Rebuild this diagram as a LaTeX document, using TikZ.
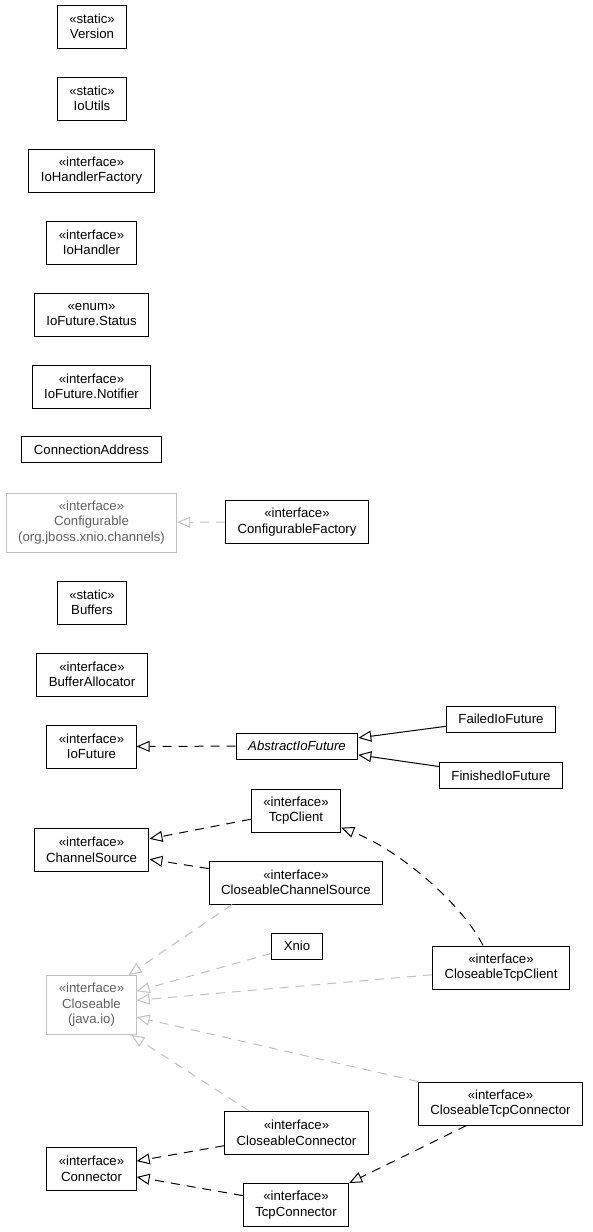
\documentclass[tikz,border=0pt]{standalone}
\usepackage{fontspec}
\setmainfont{Liberation Sans}
\usetikzlibrary{arrows.meta}
\definecolor{extline}{HTML}{C0C0C0}
\definecolor{exttext}{HTML}{606060}
\tikzset{
  cls/.style={draw, rectangle, line width=1pt, align=center, inner xsep=12pt, inner ysep=2pt,
    minimum height=43pt, font=\fontsize{13.2}{15.5}\selectfont},
  onecls/.style={cls, minimum height=26pt},
  extcls/.style={cls, draw=extline, text=exttext, minimum height=59pt},
  impl/.style={line width=1pt, dash pattern=on 9pt off 7pt, -{Triangle[open,length=13pt,width=11pt]}},
  gen/.style={line width=1pt, -{Triangle[open,length=13pt,width=11pt]}},
  extimpl/.style={impl, draw=extline}
}
\begin{document}
\begin{tikzpicture}[x=1pt,y=-1pt]%[scale=1]
  \newcommand{\stereo}[2]{«#1»\\#2}
  \useasboundingbox (0,0) rectangle (592,1232);
  % left column
  \node[cls] (ver) at (92,26.5) {\stereo{static}{Version}};
  \node[cls] (ioutils) at (92,98.5) {\stereo{static}{IoUtils}};
  \node[cls] (iohf) at (91.5,170.5) {\stereo{interface}{IoHandlerFactory}};
  \node[cls] (ioh) at (91.5,242.5) {\stereo{interface}{IoHandler}};
  \node[cls] (iofs) at (91.5,314.5) {\stereo{enum}{IoFuture.Status}};
  \node[cls] (iofn) at (91.5,386.5) {\stereo{interface}{IoFuture.Notifier}};
  \node[onecls] (conaddr) at (91.5,449.5) {ConnectionAddress};
  \node[extcls] (cfg) at (91.5,522.5) {\stereo{interface}{Configurable}\\(org.jboss.xnio.channels)};
  \node[cls] (buf) at (92,602.5) {\stereo{static}{Buffers}};
  \node[cls] (bufalloc) at (92,674.5) {\stereo{interface}{BufferAllocator}};
  \node[cls] (iof) at (91.5,746.5) {\stereo{interface}{IoFuture}};
  \node[cls] (chs) at (91.5,850) {\stereo{interface}{ChannelSource}};
  \node[extcls] (clo) at (91.5,1005) {\stereo{interface}{Closeable}\\(java.io)};
  \node[cls] (conn) at (91.5,1169) {\stereo{interface}{Connector}};
  % middle column
  \node[cls] (cfgf) at (297,522) {\stereo{interface}{ConfigurableFactory}};
  \node[onecls] (aiof) at (297,746) {\textit{AbstractIoFuture}};
  \node[cls] (tcpc) at (296,810.5) {\stereo{interface}{TcpClient}};
  \node[cls] (ccs) at (296,882.5) {\stereo{interface}{CloseableChannelSource}};
  \node[onecls] (xnio) at (297,946) {Xnio};
  \node[cls] (ccon) at (296.5,1133) {\stereo{interface}{CloseableConnector}};
  \node[cls] (tcpcn) at (296,1205) {\stereo{interface}{TcpConnector}};
  % right column
  \node[onecls] (failed) at (501,719) {FailedIoFuture};
  \node[onecls] (finished) at (501,775.5) {FinishedIoFuture};
  \node[cls] (ctcl) at (501,967.5) {\stereo{interface}{CloseableTcpClient}};
  \node[cls] (ctcn) at (500.5,1103.5) {\stereo{interface}{CloseableTcpConnector}};

  \draw[extimpl] (cfgf) -- (cfg);
  \draw[impl] (aiof) -- (iof);
  \draw[gen] (failed) -- (aiof);
  \draw[gen] (finished) -- (aiof);
  \draw[impl] (tcpc) -- (chs);
  \draw[impl] (ccs) -- (chs);
  \draw[impl] ([xshift=-18pt]ctcl.north) .. controls (463,905) and (400,850) .. (tcpc);
  \draw[extimpl] (ccs.199) -- (clo.39);
  \draw[extimpl] (xnio.196) -- (clo.17);
  \draw[extimpl] (ctcl.186) -- (clo.6);
  \draw[extimpl] (ctcn.north west) -- (clo.345);
  \draw[extimpl] (ccon.155) -- (clo.323);
  \draw[impl] (ccon) -- (conn);
  \draw[impl] (tcpcn) -- (conn);
  \draw[impl] (ctcn.213) -- (tcpcn.north east);
\end{tikzpicture}
\end{document}
